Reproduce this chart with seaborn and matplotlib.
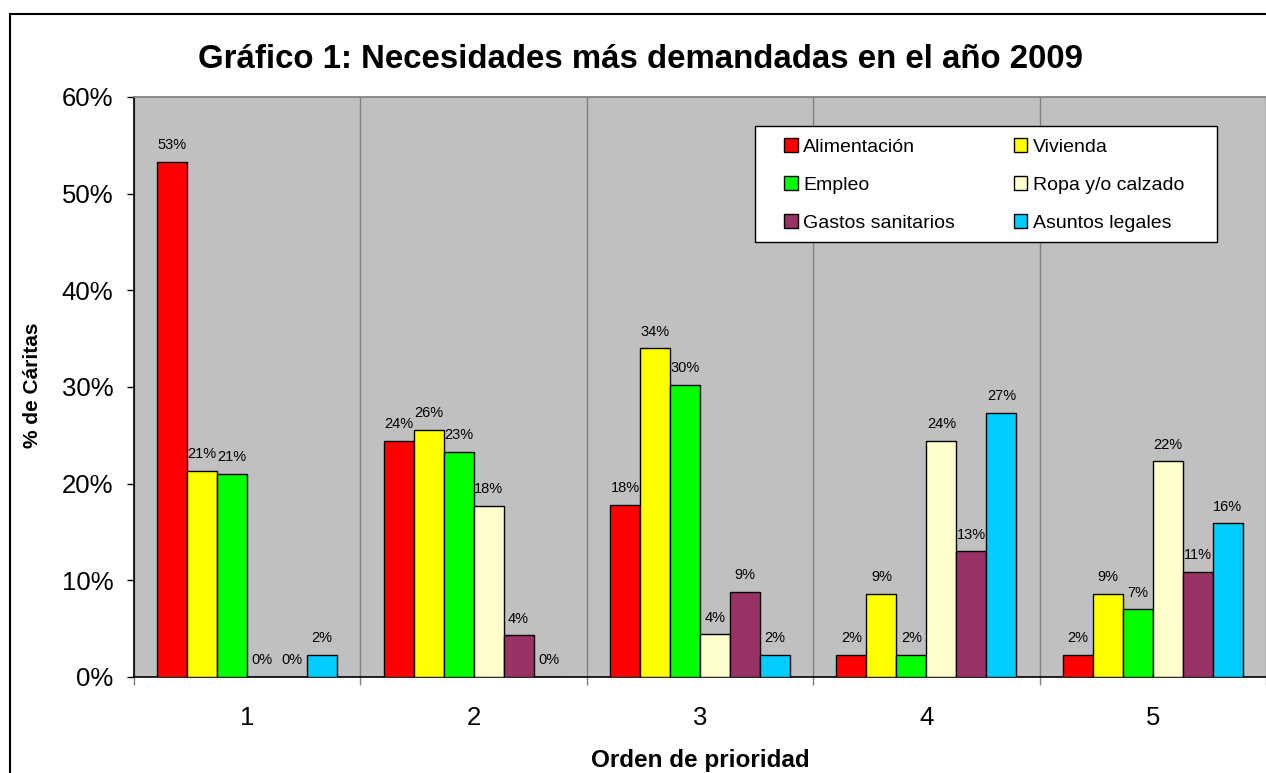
import numpy as np
import pandas as pd
import matplotlib
matplotlib.use("Agg")
import matplotlib.pyplot as plt
from matplotlib.patches import Patch, Rectangle
from matplotlib.ticker import FuncFormatter, FixedLocator
import seaborn as sns

# Datos (porcentaje de Cáritas)
ordenes = ["1", "2", "3", "4", "5"]
necesidades = ["Alimentación", "Vivienda", "Empleo", "Ropa y/o calzado",
               "Gastos sanitarios", "Asuntos legales"]
alimentacion = [53.3, 24.4, 17.8, 2.3, 2.3]
vivienda = [21.3, 25.6, 34.0, 8.6, 8.6]
empleo = [21.0, 23.3, 30.2, 2.3, 7.0]
ropa = [0.0, 17.7, 4.4, 24.4, 22.3]
gastos = [0.0, 4.3, 8.8, 13.0, 10.9]
asuntos = [2.3, 0.0, 2.3, 27.3, 15.9]

colores = ["#FF0000", "#FFFF00", "#00FF00", "#FFFFCC", "#993366", "#00CCFF"]

df = pd.DataFrame({
    "orden": ordenes,
    "Alimentación": alimentacion,
    "Vivienda": vivienda,
    "Empleo": empleo,
    "Ropa y/o calzado": ropa,
    "Gastos sanitarios": gastos,
    "Asuntos legales": asuntos,
}).melt(id_vars="orden", var_name="necesidad", value_name="pct")

sns.set_theme(style="white")
plt.rcParams.update({
    "font.family": ["Liberation Sans", "DejaVu Sans"],
    "text.color": "black",
    "axes.labelcolor": "black",
    "xtick.color": "black",
    "ytick.color": "black",
})

W, H = 1266, 773
fig = plt.figure(figsize=(W / 100, H / 100), dpi=100)
fig.patch.set_facecolor("white")
ax = fig.add_axes([134 / W, 1 - 677 / H, 1132 / W, 580 / H])
ax.set_facecolor("#C0C0C0")

sns.barplot(data=df, x="orden", y="pct", hue="necesidad", hue_order=necesidades,
            palette=colores, width=0.795, edgecolor="black", linewidth=1,
            saturation=1, legend=False, ax=ax, zorder=3)

# etiquetas de valor
for cont, nec in zip(ax.containers, necesidades):
    vals = df.loc[df["necesidad"] == nec, "pct"].to_numpy()
    ax.bar_label(cont, labels=[f"{v:.0f}%" for v in vals], padding=7,
                 fontsize=10.5, color="black")

ax.set_xlim(-0.5, 4.5)
ax.set_ylim(0, 60)
ax.set_yticks(np.arange(0, 61, 10))
ax.yaxis.set_major_formatter(FuncFormatter(lambda v, p: f"{v:.0f}%"))
ax.tick_params(axis="y", which="major", left=True, length=5, width=1,
               color="black", labelsize=18.5, pad=10)
ax.tick_params(axis="x", which="major", length=0, labelsize=18.5, pad=21)
ax.xaxis.set_minor_locator(FixedLocator(np.arange(-0.5, 5, 1)))
ax.tick_params(axis="x", which="minor", bottom=True, length=6, width=1,
               color="#808080")
ax.grid(which="minor", axis="x", color="#808080", linewidth=1, zorder=1)
ax.grid(which="major", axis="y", visible=False)
ax.set_xlabel("")
ax.set_ylabel("")

for side in ["left", "bottom"]:
    ax.spines[side].set_color("black")
    ax.spines[side].set_linewidth(1.2)
ax.spines["top"].set_color("#808080")
ax.spines["right"].set_visible(False)

# leyenda (rellena por filas como en el original)
orden_leyenda = [0, 2, 4, 1, 3, 5]
handles = [Patch(facecolor=colores[i], edgecolor="black", linewidth=1)
           for i in orden_leyenda]
labels = [necesidades[i] for i in orden_leyenda]
x0, x1 = (755 - 134) / 1132, (1217 - 134) / 1132
y0, y1 = (677 - 242) / 580, (677 - 126) / 580
ax.add_patch(Rectangle((x0, y0), x1 - x0, y1 - y0, transform=ax.transAxes,
                       facecolor="white", edgecolor="black", linewidth=1,
                       zorder=5))
leg = ax.legend(handles, labels, ncol=2, loc="upper left",
                bbox_to_anchor=((784 - 134) / 1132, (677 - 138) / 580),
                frameon=False, fontsize=14, handlelength=0.7, handleheight=0.7,
                handletextpad=0.3, columnspacing=3.0, labelspacing=1.05,
                borderpad=0, borderaxespad=0)
leg.set_zorder(6)

fig.text(640 / W, 1 - 60 / H, "Gráfico 1: Necesidades más demandadas en el año 2009",
         ha="center", va="center", fontsize=23.8, fontweight="bold")
fig.text(33 / W, 1 - 385 / H, "% de Cáritas", rotation=90, ha="center",
         va="center", fontsize=15, fontweight="bold")
fig.text(700 / W, 1 - 760 / H, "Orden de prioridad", ha="center", va="center",
         fontsize=17.5, fontweight="bold")

# borde del área del gráfico
fig.patches.append(Rectangle((10 / W, -0.1), 1.2, (H - 14) / H + 0.1,
                             transform=fig.transFigure, fill=False,
                             edgecolor="black", linewidth=1.5))

fig.savefig("out.png", dpi=100)
